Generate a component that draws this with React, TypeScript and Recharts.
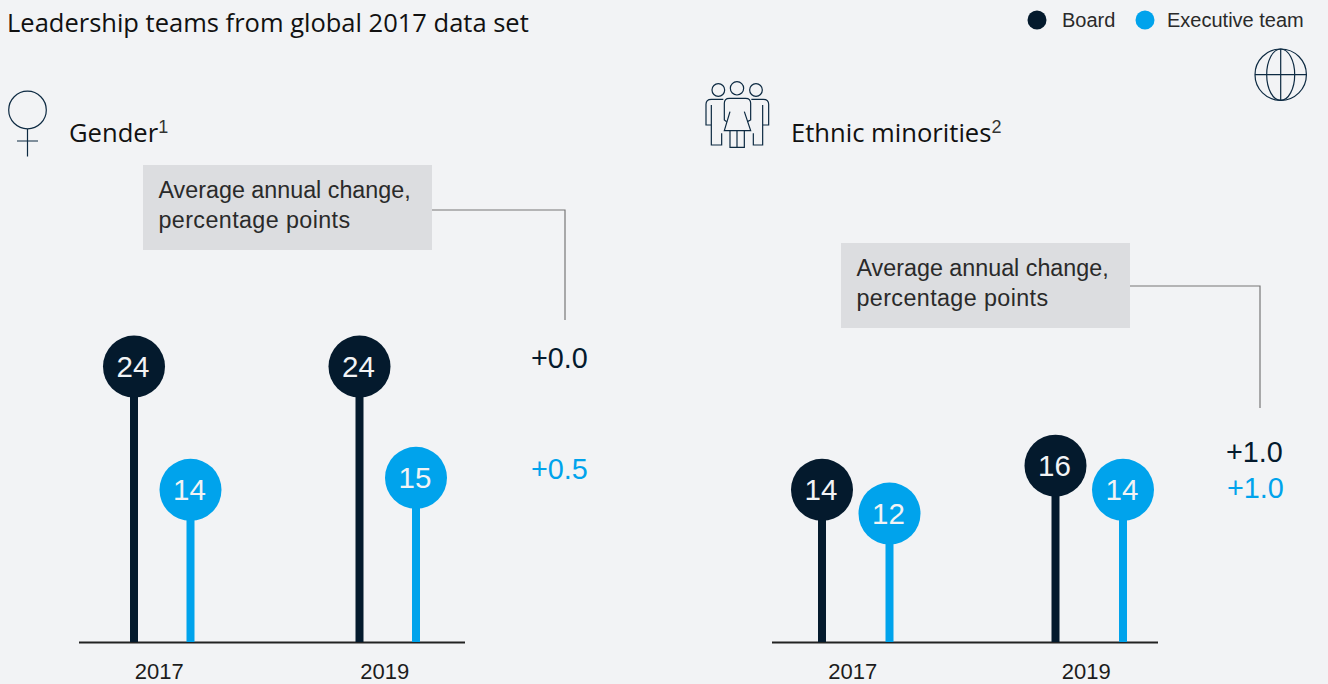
import React from "react";
import { BarChart, Bar, XAxis, YAxis } from "recharts";

const categories = ["2017", "2019"];
const genderBoard = [24, 24];
const genderExecutive = [14, 15];
const ethnicBoard = [14, 16];
const ethnicExecutive = [12, 14];
const seriesNames = ["Board", "Executive team"];
const changeLabelLines = ["Average annual change,", "percentage points"];

const NAVY = "#041a2d";
const BLUE = "#00a3ec";
const BG = "#f2f3f5";
const BOX = "#dcdde0";
const SANS = "'Liberation Sans', Arial, sans-serif";
const TITLE = "'Open Sans', sans-serif";
const W = 1328;
const H = 684;

function powScale(exponent: number) {
  const make = (domain: number[], range: number[]) => {
    const f: any = (v: number) => {
      const a = Math.pow(domain[0], exponent);
      const b = Math.pow(domain[1], exponent);
      return range[0] + ((Math.pow(v, exponent) - a) / (b - a)) * (range[1] - range[0]);
    };
    f.domain = (d?: number[]) => (d ? make(d, range) : domain);
    f.range = (r?: number[]) => (r ? make(domain, r) : range);
    f.copy = () => make(domain, range);
    f.ticks = () => domain;
    return f;
  };
  return make([0, 1], [0, 1]);
}

const Lollipop = (props: any) => {
  const { x, y, width, height, fill, value } = props;
  const v = Array.isArray(value) ? value[1] : value;
  const cx = x + width / 2;
  return (
    <g>
      <rect x={x} y={y} width={width} height={height} fill={fill} />
      <circle cx={cx} cy={y} r={31} fill={fill} />
      <text x={cx - 1} y={y + 10.5} textAnchor="middle" fontFamily={SANS} fontSize={29.5} fill={BG}>
        {v}
      </text>
    </g>
  );
};

function Panel(p: { board: number[]; exec: number[]; left: number; right: number; gap: number; dx: number }) {
  const rows = categories.map((c, i) => ({ year: c, board: p.board[i], exec: p.exec[i] }));
  return (
    <div style={{ position: "absolute", left: 0, top: 0 }}>
      <BarChart
        width={W}
        height={H}
        data={rows}
        margin={{ top: 290, bottom: 0, left: p.left, right: W - p.right }}
        barSize={8}
        barGap={p.gap}
      >
        <XAxis
          dataKey="year"
          axisLine={false}
          tickLine={false}
          height={42}
          tickMargin={15}
          tick={{ fontFamily: SANS, fontSize: 22, fill: "#1c1c1c", dx: p.dx }}
        />
        <YAxis hide domain={[0, 30]} scale={powScale(1.1)} />
        <Bar dataKey="board" name={seriesNames[0]} fill={NAVY} isAnimationActive={false} shape={<Lollipop />} />
        <Bar dataKey="exec" name={seriesNames[1]} fill={BLUE} isAnimationActive={false} shape={<Lollipop />} />
      </BarChart>
    </div>
  );
}

function Callout({ x, y, lx, ly, cy }: { x: number; y: number; lx: number; ly: number; cy: number }) {
  return (
    <g>
      <rect x={x} y={y} width={289} height={85} fill={BOX} />
      {changeLabelLines.map((t, i) => (
        <text
          key={t}
          x={x + 15.5}
          y={y + 32.5 + i * 30}
          fontFamily={SANS}
          fontSize={23.3}
          letterSpacing={i === 1 ? 0.4 : 0}
          fill="#2a2a2a"
        >
          {t}
        </text>
      ))}
      <path d={`M${x + 289} ${cy} H${lx} V${ly}`} fill="none" stroke="#777" strokeWidth={1.2} />
    </g>
  );
}

const Change = ({ x, y, t, c }: { x: number; y: number; t: string; c: string }) => (
  <text x={x} y={y} fontFamily={SANS} fontSize={28.8} fill={c}>
    {t}
  </text>
);

function Overlay() {
  return (
    <svg width={W} height={H} style={{ position: "absolute", left: 0, top: 0 }}>
      <text x={7} y={32} fontFamily={TITLE} fontSize={25.5} fill="#111">
        Leadership teams from global 2017 data set
      </text>
      <circle cx={1037} cy={20} r={9.5} fill={NAVY} />
      <text x={1062} y={27} fontFamily={SANS} fontSize={20} fill="#2a2a2a">{seriesNames[0]}</text>
      <circle cx={1145} cy={20} r={9.5} fill={BLUE} />
      <text x={1167} y={27} fontFamily={SANS} fontSize={20} fill="#2a2a2a">{seriesNames[1]}</text>

      <g fill="none" stroke="#0d2a42" strokeWidth={1.2}>
        <circle cx={1280.7} cy={74.7} r={25.7} />
        <ellipse cx={1280.7} cy={74.7} rx={14} ry={25.7} />
        <path d="M1280.7 49V100.4M1255 74.7H1306.4" />
        <circle cx={27.5} cy={110} r={18.8} />
        <path d="M27.5 129V156.5M17 141H38" />
        <g transform="translate(690 70) scale(0.3333)" strokeWidth={3.6}>
          <circle cx={141} cy={55} r={20} />
          <circle cx={85} cy={60} r={19} />
          <circle cx={198} cy={60} r={19} />
          <path d="M120 125L103 182H182L163 125" />
          <path d="M110 155L103 150V100Q103 85 118 85H167Q182 85 182 100V150L172 155" />
          <path d="M120 182V232H163V182M141 182V232" />
          <path d="M100 88H64Q48 88 48 103V165H64V105M64 165V225H95V190" />
          <path d="M184 88H220Q236 88 236 103V165H218V105M218 165V225H190V190" />
        </g>
      </g>

      <text x={69} y={142} fontFamily={TITLE} fontSize={25.6} fill="#111">
        Gender
        <tspan dy={-9} fontSize={18} fontFamily={SANS} fill="#333">1</tspan>
      </text>
      <text x={791} y={142} fontFamily={TITLE} fontSize={25.6} fill="#111">
        Ethnic minorities
        <tspan dy={-9} fontSize={18} fontFamily={SANS} fill="#333">2</tspan>
      </text>

      <Callout x={143} y={165} lx={565} ly={320} cy={210} />
      <Callout x={841} y={243} lx={1260} ly={408} cy={286} />

      <Change x={531} y={368} t="+0.0" c={NAVY} />
      <Change x={531} y={479} t="+0.5" c={BLUE} />
      <Change x={1226} y={462} t="+1.0" c={NAVY} />
      <Change x={1227} y={498} t="+1.0" c={BLUE} />

      <path d="M79 642.5H465M772 642.5H1158" stroke="#222" strokeWidth={2} />
    </svg>
  );
}

export default function App() {
  return (
    <div style={{ position: "absolute", left: 0, top: 0, width: W, height: H, background: BG, overflow: "hidden" }}>
      <Overlay />
      <Panel board={genderBoard} exec={genderExecutive} left={49} right={500} gap={48.5} dx={-2.5} />
      <Panel board={ethnicBoard} exec={ethnicExecutive} left={739} right={1206} gap={59.5} dx={-3} />
    </div>
  );
}
